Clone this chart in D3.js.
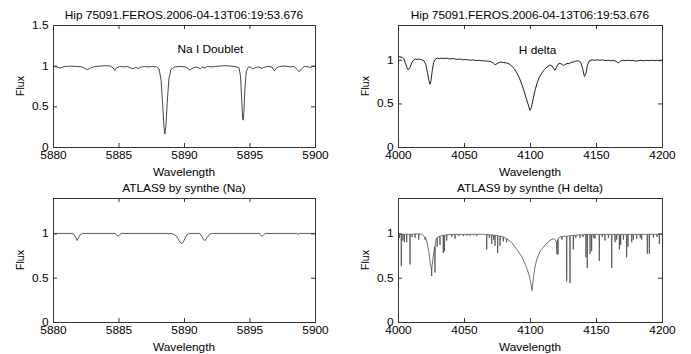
<!DOCTYPE html>
<html>
<head>
<meta charset="utf-8">
<script src="https://cdn.jsdelivr.net/npm/d3@7"></script>
<style>
  body { margin: 0; background: #fff; }
  text { font-family: "Liberation Sans", Arial, sans-serif; fill: #000; }
</style>
</head>
<body>
<script>
// observed FEROS spectrum around the Na I doublet  [wavelength, flux]
const naObs = [
  [5880.0,0.99],[5880.3,0.985],[5880.55,0.97],[5880.75,0.985],[5881.0,0.99],[5881.4,0.995],[5881.8,0.99],
  [5882.2,0.985],[5882.45,0.965],[5882.65,0.95],[5882.85,0.97],[5883.2,0.99],[5883.6,0.995],[5884.0,1.0],
  [5884.4,0.995],[5884.6,0.97],[5884.72,0.94],[5884.85,0.975],[5885.1,0.99],[5885.4,0.985],[5885.7,0.99],
  [5885.95,0.97],[5886.1,0.96],[5886.3,0.98],[5886.5,0.965],[5886.7,0.98],[5887.0,0.99],[5887.3,0.985],
  [5887.6,0.99],[5887.9,0.985],[5888.1,0.96],[5888.25,0.82],[5888.38,0.5],[5888.47,0.25],[5888.54,0.16],
  [5888.62,0.26],[5888.72,0.55],[5888.85,0.84],[5889.0,0.95],[5889.3,0.985],[5889.7,0.99],[5890.1,0.985],
  [5890.3,0.965],[5890.45,0.945],[5890.6,0.965],[5890.9,0.985],[5891.1,0.975],[5891.25,0.96],[5891.4,0.985],
  [5891.6,0.97],[5891.8,0.99],[5892.1,0.985],[5892.4,0.99],[5892.7,0.995],[5893.1,1.0],[5893.5,0.995],
  [5893.9,0.99],[5894.2,0.975],[5894.32,0.86],[5894.4,0.6],[5894.47,0.36],[5894.52,0.33],[5894.58,0.45],
  [5894.66,0.75],[5894.76,0.93],[5894.9,0.98],[5895.05,0.985],[5895.25,0.96],[5895.45,0.975],[5895.7,0.985],
  [5895.95,0.965],[5896.1,0.98],[5896.4,0.99],[5896.7,0.985],[5896.9,0.935],[5897.05,0.97],[5897.3,0.99],
  [5897.7,0.995],[5898.1,0.985],[5898.4,0.99],[5898.65,0.95],[5898.8,0.925],[5898.95,0.96],[5899.2,0.99],
  [5899.5,0.985],[5899.65,0.975],[5899.8,0.99],[5900.0,0.99]
];

// observed FEROS spectrum around H delta
const hdObs = [
  [4000,1.04],[4001.5,1.035],[4003,1.03],[4004.5,1.01],[4005.5,0.97],[4006.8,0.91],[4007.8,0.885],[4009,0.91],
  [4010.5,0.97],[4012,1.0],[4013,1.01],[4014.5,1.005],[4016,1.01],[4018,1.0],[4019.5,0.99],[4021,0.95],
  [4022.5,0.84],[4023.5,0.76],[4024.2,0.72],[4025,0.76],[4026,0.88],[4027,0.97],[4028.5,1.01],[4030,1.02],
  [4031.5,1.015],[4033,1.02],[4035,1.015],[4037,1.02],[4039,1.01],[4041,1.015],[4043,1.01],[4045,1.005],
  [4047,1.01],[4049,1.0],[4051,1.005],[4053,1.0],[4055,0.995],[4057,1.0],[4059,0.99],[4061,0.995],
  [4063,0.99],[4065,0.99],[4067,0.985],[4069,0.985],[4071,0.975],[4072.5,0.96],[4073.5,0.945],[4075,0.955],
  [4076.5,0.97],[4078,0.975],[4080,0.97],[4082,0.965],[4084,0.955],[4086,0.93],[4088,0.9],[4090,0.85],
  [4092,0.79],[4094,0.71],[4096,0.62],[4097.5,0.54],[4099,0.47],[4100,0.42],[4101,0.45],[4102.5,0.56],
  [4104,0.66],[4105.5,0.74],[4107,0.8],[4109,0.85],[4111,0.89],[4113,0.92],[4115,0.94],[4116.8,0.93],
  [4118,0.9],[4118.9,0.88],[4120,0.91],[4121.2,0.95],[4122.7,0.96],[4124,0.95],[4125.3,0.935],[4126.5,0.945],
  [4128,0.96],[4129.5,0.955],[4131,0.97],[4132.8,0.975],[4134.5,0.985],[4136.5,0.99],[4138.5,0.97],
  [4140,0.89],[4141.2,0.81],[4142.3,0.84],[4143.5,0.94],[4145,0.99],[4147,1.0],[4149,0.995],[4151,1.0],
  [4153,0.995],[4155,1.0],[4157,0.99],[4159,0.995],[4161,0.99],[4163,0.995],[4165,0.985],[4166.9,0.965],
  [4168.5,0.985],[4170,0.995],[4172,0.99],[4174,0.995],[4176,0.99],[4178,0.995],[4180,0.985],[4182,0.99],
  [4184,0.995],[4186,0.99],[4188,0.995],[4190,0.99],[4192,0.995],[4194,0.99],[4196,0.995],[4198,0.99],
  [4200,0.995]
];

// ATLAS9 / SYNTHE model around Na I
const naSyn = [
  [5880,1],[5881.4,1],[5881.6,0.99],[5881.75,0.95],[5881.85,0.92],[5881.95,0.95],[5882.1,0.99],[5882.3,1],
  [5884.75,1],[5884.88,0.98],[5884.97,0.97],[5885.06,0.98],[5885.2,1],
  [5889.0,1],[5889.2,0.99],[5889.4,0.975],[5889.55,0.94],[5889.7,0.9],[5889.85,0.885],[5890.0,0.92],
  [5890.2,0.98],[5890.4,1],
  [5891.2,1],[5891.35,0.97],[5891.5,0.93],[5891.62,0.92],[5891.75,0.95],[5891.95,0.99],[5892.2,1],
  [5895.75,1],[5895.88,0.98],[5895.97,0.965],[5896.06,0.98],[5896.2,1],
  [5898.6,1],[5898.7,0.99],[5898.8,1],[5900,1]
];

// ATLAS9 / SYNTHE model around H delta
const hdSyn = [
  [4000,0.99],[4000.8,0.99],[4001,0.95],[4001.2,0.99],[4002.3,0.99],[4002.5,0.63],[4002.7,0.99],
  [4003.5,0.99],[4003.7,0.92],[4003.9,0.99],[4004.6,0.99],[4004.8,0.9],[4005,0.99],
  [4006.4,0.99],[4006.6,0.9],[4006.8,0.99],[4008.9,0.99],[4009.1,0.65],[4009.3,0.99],
  [4010.5,0.99],[4010.7,0.96],[4010.9,0.99],[4012.7,0.995],[4012.9,0.95],[4013.1,0.995],
  [4015.5,0.995],[4015.7,0.93],[4015.9,0.995],[4018,0.99],
  [4020.3,0.96],[4020.5,0.93],[4020.7,0.955],[4022,0.9],[4023.5,0.78],[4024.5,0.66],
  [4025.3,0.6],[4025.5,0.52],[4025.7,0.62],[4026.5,0.72],[4027.8,0.85],[4028,0.56],[4028.2,0.88],
  [4029,0.94],[4029.5,0.95],[4029.7,0.85],[4029.9,0.955],[4031.6,0.97],[4031.8,0.87],[4032,0.97],
  [4033,0.975],[4034.1,0.98],[4034.3,0.78],[4034.5,0.98],[4035,0.98],[4035.2,0.8],[4035.4,0.98],
  [4036.7,0.985],[4036.9,0.92],[4037.1,0.985],[4040.5,0.99],[4040.7,0.96],[4040.9,0.99],
  [4043,0.99],[4043.2,0.94],[4043.4,0.99],[4046,0.99],[4046.2,0.97],[4046.4,0.99],
  [4049.3,0.99],[4049.5,0.97],[4049.7,0.99],[4052,0.99],[4052.2,0.975],[4052.4,0.99],
  [4054.3,0.99],[4054.5,0.975],[4054.7,0.99],[4057,0.99],[4057.2,0.98],[4057.4,0.99],
  [4059.4,0.99],[4059.6,0.97],[4059.8,0.99],[4063,0.99],
  [4067,0.99],[4067.2,0.82],[4067.4,0.99],[4069,0.985],[4069.2,0.95],[4069.4,0.985],
  [4070.8,0.985],[4071,0.88],[4071.2,0.985],[4072.3,0.98],[4072.5,0.93],[4072.7,0.98],
  [4073.3,0.98],[4073.5,0.86],[4073.7,0.98],[4075.3,0.975],[4075.5,0.78],[4075.7,0.975],
  [4077.1,0.97],[4077.3,0.86],[4077.5,0.97],[4079.6,0.96],[4079.8,0.91],[4080,0.96],
  [4081,0.95],[4082.1,0.94],[4082.3,0.9],[4082.5,0.94],
  [4086,0.9],[4090,0.82],[4093.7,0.74],[4097,0.63],[4099.5,0.52],[4100.8,0.42],[4101.5,0.355],
  [4102.2,0.45],[4103.5,0.6],[4105,0.7],[4107.6,0.8],[4112.7,0.89],[4116,0.93],
  [4118,0.94],[4119,0.93],[4120,0.9],[4120.4,0.77],[4120.6,0.91],[4121,0.93],[4121.2,0.76],[4121.4,0.94],
  [4122.7,0.96],[4124,0.965],[4124.2,0.93],[4124.4,0.965],
  [4127.6,0.97],[4127.8,0.46],[4128,0.97],[4130.1,0.975],[4130.3,0.44],[4130.5,0.975],
  [4132.6,0.98],[4132.8,0.82],[4133,0.98],[4134.5,0.98],[4134.7,0.95],[4134.9,0.98],
  [4137.7,0.985],[4137.9,0.95],[4138.1,0.985],[4140,0.985],[4140.2,0.96],[4140.4,0.985],
  [4142.2,0.99],[4142.4,0.73],[4142.6,0.99],[4143.2,0.99],[4143.4,0.61],[4143.6,0.99],
  [4145.3,0.99],[4145.5,0.77],[4145.7,0.99],[4146.5,0.99],[4146.7,0.8],[4146.9,0.99],
  [4148,0.99],[4148.2,0.95],[4148.4,0.99],[4149,0.99],[4149.2,0.94],[4149.4,0.99],
  [4152.3,0.99],[4152.5,0.69],[4152.7,0.99],[4154.5,0.99],[4154.7,0.96],[4154.9,0.99],
  [4156.6,0.99],[4156.8,0.92],[4157,0.99],[4159.2,0.99],[4159.4,0.95],[4159.6,0.99],
  [4161.7,0.99],[4161.9,0.61],[4162.1,0.99],[4164.2,0.99],[4164.4,0.9],[4164.6,0.99],
  [4165.5,0.99],[4165.7,0.93],[4165.9,0.99],[4167.5,0.99],[4167.7,0.82],[4167.9,0.99],
  [4168.5,0.99],[4168.7,0.87],[4168.9,0.99],[4170.6,0.99],[4170.8,0.93],[4171,0.99],
  [4173,0.99],[4173.2,0.73],[4173.4,0.99],[4174,0.99],[4174.2,0.85],[4174.4,0.99],
  [4176.9,0.99],[4177.1,0.9],[4177.3,0.99],[4178.1,0.99],[4178.3,0.93],[4178.5,0.99],
  [4180.6,0.99],[4180.8,0.94],[4181,0.99],[4183.3,0.99],[4183.5,0.95],[4183.7,0.99],
  [4184.4,0.99],[4184.6,0.93],[4184.8,0.99],[4188.7,0.99],[4188.9,0.77],[4189.1,0.99],
  [4190.2,0.99],[4190.4,0.77],[4190.6,0.99],[4193.3,0.99],[4193.5,0.95],[4193.7,0.99],
  [4196,0.99],[4196.2,0.96],[4196.4,0.99],[4197.8,0.99],[4198,0.88],[4198.2,0.99],
  [4200,0.99]
];

const naTicks = [5880, 5885, 5890, 5895, 5900];
const hdTicks = [4000, 4050, 4100, 4150, 4200];
const fluxTicksTall = [0, 0.5, 1, 1.5];
const fluxTicks = [0, 0.5, 1];

const obsTitle = "Hip 75091.FEROS.2006-04-13T06:19:53.676";

const W = 691, H = 354;
const FS = 10.5;      // font size
const SX = 1.13;      // the reference is a bit wider than tall

const svg = d3.select("body").append("svg")
  .attr("width", W)
  .attr("height", H);

function label(g, x, y, str, anchor) {
  return g.append("text")
    .attr("transform", "translate(" + x + "," + y + ") scale(" + SX + ",1)")
    .attr("text-anchor", anchor || "middle")
    .attr("font-size", FS)
    .text(str);
}

function drawPanel(p) {
  const x = d3.scaleLinear().domain(p.xDomain).range([p.left, p.right]);
  const y = d3.scaleLinear().domain(p.yDomain).range([p.bottom, p.top]);
  const g = svg.append("g");

  // the spectrum
  g.append("path")
    .datum(p.data)
    .attr("fill", "none")
    .attr("stroke", p.color)
    .attr("stroke-width", p.lw)
    .attr("stroke-linejoin", "round")
    .attr("d", d3.line().x(d => x(d[0])).y(d => y(d[1])));

  // MATLAB style: inward ticks on all four sides
  const styleAxis = a => {
    a.select(".domain").remove();
    a.selectAll("line").attr("stroke", "#333");
    a.selectAll("text")
      .attr("font-size", FS)
      .attr("font-family", "Liberation Sans, Arial, sans-serif")
      .attr("transform", "scale(" + SX + ",1)");
  };
  g.append("g").attr("transform", "translate(0," + p.bottom + ")")
    .call(d3.axisBottom(x).tickValues(p.xTicks).tickSize(-4).tickPadding(5).tickFormat(d3.format("d")))
    .call(styleAxis);
  g.append("g").attr("transform", "translate(0," + p.top + ")")
    .call(d3.axisTop(x).tickValues(p.xTicks).tickSize(-4).tickFormat(""))
    .call(styleAxis);
  g.append("g").attr("transform", "translate(" + p.left + ",0)")
    .call(d3.axisLeft(y).tickValues(p.yTicks).tickSize(-4).tickPadding(4).tickFormat(d3.format("")))
    .call(styleAxis);
  g.append("g").attr("transform", "translate(" + p.right + ",0)")
    .call(d3.axisRight(y).tickValues(p.yTicks).tickSize(-4).tickFormat(""))
    .call(styleAxis);
  g.selectAll(".tick text").attr("fill", "#000");

  g.append("rect")
    .attr("x", p.left).attr("y", p.top)
    .attr("width", p.right - p.left).attr("height", p.bottom - p.top)
    .attr("fill", "none")
    .attr("stroke", "#333")
    .attr("stroke-width", 1)
    .attr("shape-rendering", "crispEdges");

  const cx = (p.left + p.right) / 2;
  label(g, cx, p.top - 6, p.title);
  label(g, cx, p.bottom + 29, "Wavelength");
  g.append("text")
    .attr("transform", "translate(" + (p.left - 29) + "," + ((p.top + p.bottom) / 2) + ") rotate(-90)")
    .attr("text-anchor", "middle")
    .attr("font-size", FS)
    .text("Flux");

  if (p.note) label(g, x(p.note[0]), y(p.note[1]), p.note[2], "start");
}

drawPanel({
  left: 53, right: 315, top: 25, bottom: 147,
  xDomain: [5880, 5900], yDomain: [0, 1.5],
  xTicks: naTicks, yTicks: fluxTicksTall,
  data: naObs, title: obsTitle, color: "#333", lw: 0.9,
  note: [5889.5, 1.16, "Na I Doublet"]
});
drawPanel({
  left: 398, right: 662, top: 25, bottom: 147,
  xDomain: [4000, 4200], yDomain: [0, 1.4],
  xTicks: hdTicks, yTicks: fluxTicks,
  data: hdObs, title: obsTitle, color: "#222", lw: 1,
  note: [4091.5, 1.07, "H delta"]
});
drawPanel({
  left: 53, right: 315, top: 198, bottom: 322,
  xDomain: [5880, 5900], yDomain: [0, 1.4],
  xTicks: naTicks, yTicks: fluxTicks,
  data: naSyn, title: "ATLAS9 by synthe (Na)", color: "#444", lw: 0.9
});
drawPanel({
  left: 398, right: 662, top: 198, bottom: 322,
  xDomain: [4000, 4200], yDomain: [0, 1.4],
  xTicks: hdTicks, yTicks: fluxTicks,
  data: hdSyn, title: "ATLAS9 by synthe (H delta)", color: "#444", lw: 0.75
});
</script>
</body>
</html>
